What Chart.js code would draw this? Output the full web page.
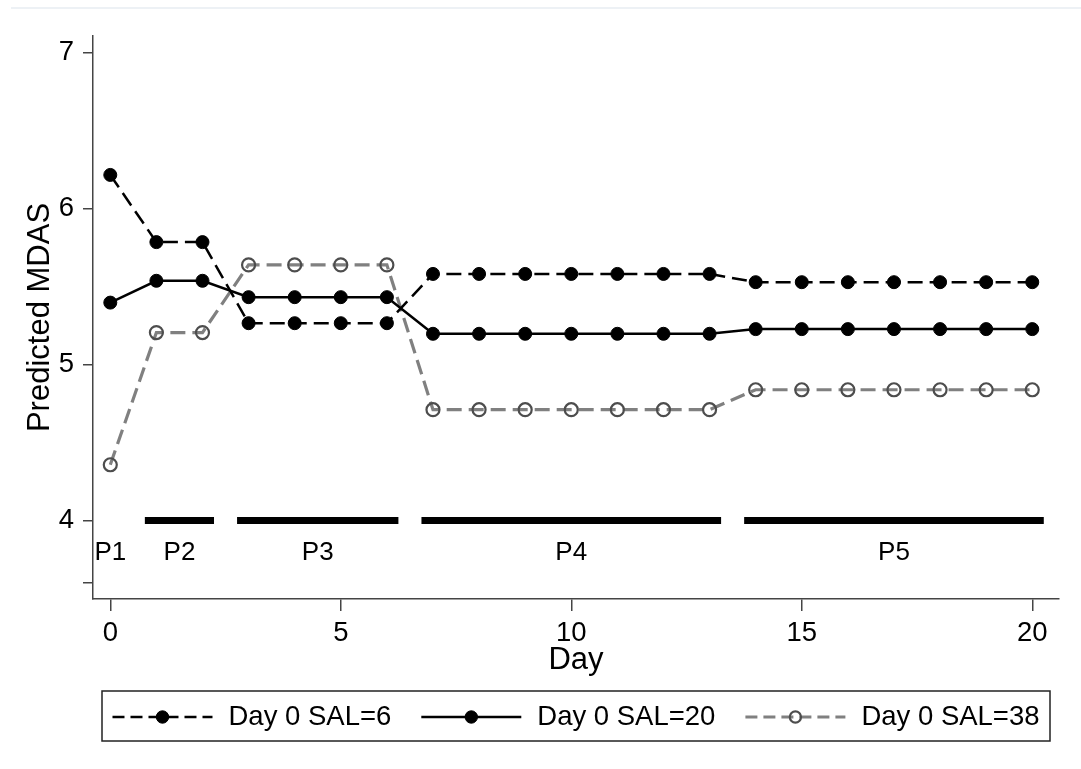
<!DOCTYPE html>
<html>
<head>
<meta charset="utf-8">
<script src="https://cdn.jsdelivr.net/npm/chart.js@4.4.1/dist/chart.umd.min.js"></script>
<style>
  html, body { margin: 0; padding: 0; background: #fff; }
  #wrap { position: relative; width: 1081px; height: 769px; }
  #topline { position: absolute; left: 11px; right: 0; top: 7px; height: 2px; background: #edf1f5; }
  canvas { position: absolute; left: 0; top: 0; }
</style>
</head>
<body>
<div id="wrap">
  <div id="topline"></div>
  <canvas id="chart" width="1081" height="769"></canvas>
</div>
<script>
const FONT = '"Liberation Sans", Arial, Helvetica, sans-serif';

const days = [0, 1, 2, 3, 4, 5, 6, 7, 8, 9, 10, 11, 12, 13, 14, 15, 16, 17, 18, 19, 20];
const sal6 = [6.216, 5.785, 5.785, 5.265, 5.265, 5.265, 5.265, 5.581, 5.581, 5.581, 5.581,
              5.581, 5.581, 5.581, 5.528, 5.528, 5.528, 5.528, 5.528, 5.528, 5.528];
const sal20 = [5.397, 5.537, 5.537, 5.432, 5.432, 5.432, 5.432, 5.197, 5.197, 5.197, 5.197,
               5.197, 5.197, 5.197, 5.227, 5.227, 5.227, 5.227, 5.227, 5.227, 5.227];
const sal38 = [4.357, 5.205, 5.205, 5.639, 5.639, 5.639, 5.639, 4.710, 4.710, 4.710, 4.710,
               4.710, 4.710, 4.710, 4.838, 4.838, 4.838, 4.838, 4.838, 4.838, 4.838];
const seriesNames = ["Day 0 SAL=6", "Day 0 SAL=20", "Day 0 SAL=38"];

// periods shown under the curves
const periodNames = ["P1", "P2", "P3", "P4", "P5"];
const periodLabelX = [0, 1.5, 4.5, 10, 17];
const periodBarStart = [null, 0.75, 2.75, 6.75, 13.75];
const periodBarEnd = [null, 2.25, 6.25, 13.25, 20.25];
const periodBarY = 4;
const periodLabelY = 3.79;

const xTickValues = [0, 5, 10, 15, 20];
const yTickValues = [3.6, 4, 5, 6, 7];
const yTickLabels = ["", "4", "5", "6", "7"];

const toPoints = (vals) => days.map((d, i) => ({ x: d, y: vals[i] }));

const lineSets = [
  {
    label: seriesNames[0], data: toPoints(sal6),
    borderColor: "#000", borderWidth: 2.5, borderDash: [15, 7],
    pointRadius: 6.5, pointBackgroundColor: "#000", pointBorderColor: "#000", pointBorderWidth: 1,
  },
  {
    label: seriesNames[1], data: toPoints(sal20),
    borderColor: "#000", borderWidth: 2.5,
    pointRadius: 6.5, pointBackgroundColor: "#000", pointBorderColor: "#000", pointBorderWidth: 1,
  },
  {
    label: seriesNames[2], data: toPoints(sal38),
    borderColor: "#808080", borderWidth: 3.2, borderDash: [15, 7],
    pointRadius: 6.5, pointBackgroundColor: "rgba(0,0,0,0)", pointBorderColor: "#4d4d4d", pointBorderWidth: 2.2,
  },
];
const legendMarkerR = [6.2, 6.2, 5.6];

const barSets = [];
periodNames.forEach((n, i) => {
  if (periodBarStart[i] === null) return;
  barSets.push({
    label: "", data: [{ x: periodBarStart[i], y: periodBarY }, { x: periodBarEnd[i], y: periodBarY }],
    borderColor: "#000", borderWidth: 7, borderCapStyle: "butt", pointRadius: 0,
  });
});

const extras = {
  id: "extras",
  afterDatasetsDraw(chart) {
    const { ctx, scales: { x, y } } = chart;
    ctx.save();
    ctx.font = "26px " + FONT;
    ctx.fillStyle = "#000";
    ctx.textAlign = "center";
    ctx.textBaseline = "middle";
    periodNames.forEach((n, i) => {
      ctx.fillText(n, x.getPixelForValue(periodLabelX[i]), y.getPixelForValue(periodLabelY));
    });
    ctx.restore();
  },
  afterDraw(chart) {
    const ctx = chart.ctx;
    const box = { left: 102, top: 691, width: 948, height: 50 };
    const sample = 100, gapText = 16, gapItem = 30;
    const midY = box.top + box.height / 2 + 1;
    ctx.save();
    ctx.strokeStyle = "#222";
    ctx.lineWidth = 1.5;
    ctx.strokeRect(box.left, box.top, box.width, box.height);
    ctx.font = "27.5px " + FONT;
    const widths = seriesNames.map((s) => ctx.measureText(s).width);
    let total = 0;
    widths.forEach((w, i) => { total += sample + gapText + w + (i < widths.length - 1 ? gapItem : 0); });
    let cx = box.left + box.width / 2 - total / 2;
    lineSets.forEach((ds, i) => {
      ctx.beginPath();
      ctx.setLineDash(ds.borderDash ? [12, 6] : []);
      ctx.strokeStyle = ds.borderColor;
      ctx.lineWidth = ds.borderWidth;
      ctx.moveTo(cx, midY);
      ctx.lineTo(cx + sample, midY);
      ctx.stroke();
      ctx.setLineDash([]);
      ctx.beginPath();
      ctx.arc(cx + sample / 2, midY, legendMarkerR[i], 0, Math.PI * 2);
      ctx.fillStyle = ds.pointBackgroundColor;
      ctx.fill();
      ctx.strokeStyle = ds.pointBorderColor;
      ctx.lineWidth = ds.pointBorderWidth;
      ctx.stroke();
      ctx.fillStyle = "#000";
      ctx.textAlign = "left";
      ctx.textBaseline = "middle";
      ctx.fillText(seriesNames[i], cx + sample + gapText, midY);
      cx += sample + gapText + widths[i] + gapItem;
    });
    ctx.restore();
  },
};

Chart.defaults.font.family = FONT;
Chart.defaults.color = "#000";

new Chart(document.getElementById("chart"), {
  type: "line",
  data: { datasets: [...lineSets, ...barSets] },
  plugins: [extras],
  options: {
    responsive: false,
    animation: false,
    layout: { padding: { left: 0, right: 22, top: 36, bottom: 90 } },
    elements: { line: { tension: 0 } },
    plugins: { legend: { display: false }, tooltip: { enabled: false } },
    scales: {
      x: {
        type: "linear", min: -0.375, max: 20.58,
        afterBuildTicks: (s) => { s.ticks = xTickValues.map((v) => ({ value: v })); },
        afterFit: (s) => { s.height = 80; },
        grid: { drawOnChartArea: false, drawTicks: true, tickLength: 12, color: "#444", lineWidth: 1.5 },
        border: { display: true, color: "#444", width: 1.5 },
        ticks: { font: { size: 27.5 }, color: "#000", padding: 6, maxRotation: 0, autoSkip: false },
        title: { display: true, text: "Day", font: { size: 31 }, color: "#000", padding: { top: 0, bottom: 0 } },
      },
      y: {
        type: "linear", min: 3.496, max: 7.107,
        afterBuildTicks: (s) => { s.ticks = yTickValues.map((v) => ({ value: v })); },
        afterFit: (s) => { s.width = 93; },
        grid: { drawOnChartArea: false, drawTicks: true, tickLength: 10, color: "#444", lineWidth: 1.5 },
        border: { display: true, color: "#444", width: 1.5 },
        ticks: {
          font: { size: 27.5 }, color: "#000", padding: 9, autoSkip: false,
          callback: (v) => yTickLabels[yTickValues.indexOf(v)],
        },
        title: { display: true, text: "Predicted MDAS", font: { size: 31 }, color: "#000", padding: { top: 22, bottom: 0 } },
      },
    },
  },
});
</script>
</body>
</html>
